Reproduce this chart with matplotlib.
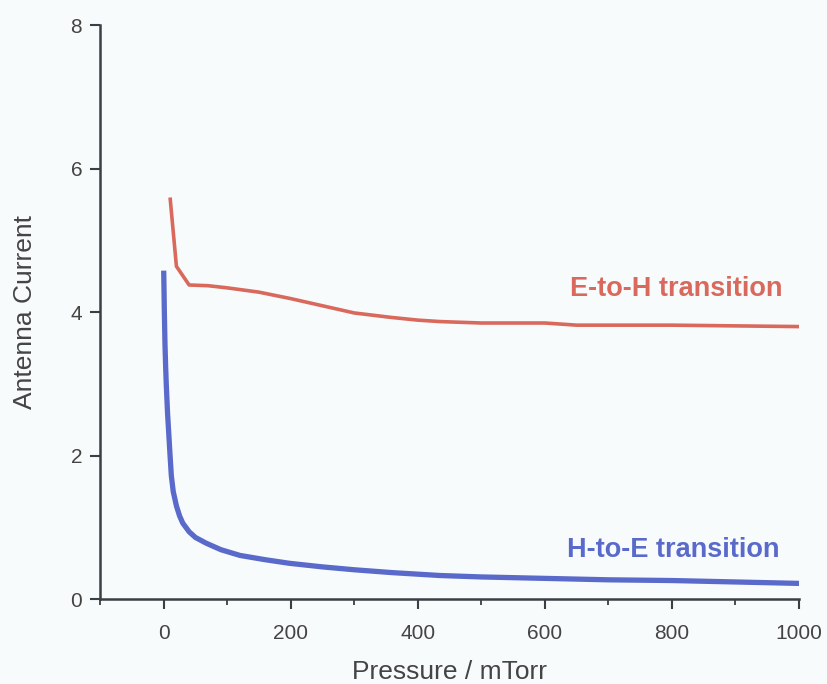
import matplotlib
matplotlib.use('Agg')
from matplotlib import pyplot as plt
from matplotlib.ticker import MultipleLocator

plt.rcParams['font.family'] = ['Liberation Sans', 'DejaVu Sans']

# E-to-H transition (red curve)
eh_pressure = [10, 20, 40, 70, 100, 150, 200, 250, 300, 356, 400, 435, 500, 600, 650, 800, 1000]
eh_current = [5.6, 4.64, 4.38, 4.37, 4.34, 4.28, 4.19, 4.09, 3.99, 3.93, 3.89, 3.87, 3.85, 3.85, 3.82, 3.82, 3.80]

# H-to-E transition (blue curve)
he_pressure = [0, 1, 2, 3, 4, 6, 8, 10, 12, 15, 20, 25, 30, 40, 50, 67, 90, 120, 160,
               198, 250, 300, 360, 435, 500, 600, 700, 800, 900, 1000]
he_current = [4.58, 4.0, 3.55, 3.25, 3.0, 2.6, 2.3, 2.0, 1.72, 1.5, 1.3, 1.16, 1.06, 0.94,
              0.86, 0.78, 0.69, 0.61, 0.55, 0.50, 0.45, 0.41, 0.37, 0.33, 0.31, 0.29,
              0.27, 0.26, 0.24, 0.22]

red = '#d9695c'
blue = '#5a6acb'
axis_col = '#3a3f45'
bg = '#f8fbfc'

fig = plt.figure(figsize=(8.28, 6.84), dpi=100, facecolor=bg)
ax = fig.add_axes([0.121, 0.124, 0.844, 0.839], facecolor=bg)

ax.plot(eh_pressure, eh_current, color=red, lw=2.6, solid_capstyle='butt')
ax.plot(he_pressure, he_current, color=blue, lw=3.8, solid_capstyle='butt')

ax.text(806, 4.33, 'E-to-H transition', color=red, fontsize=19.5, fontweight='bold',
        ha='center', va='center')
ax.text(802, 0.69, 'H-to-E transition', color=blue, fontsize=19.5, fontweight='bold',
        ha='center', va='center')

ax.set_xlim(-100, 1000)
ax.set_ylim(0, 8)
ax.set_xticks([0, 200, 400, 600, 800, 1000])
ax.xaxis.set_minor_locator(MultipleLocator(100))
ax.set_yticks([0, 2, 4, 6, 8])

for s in ['top', 'right']:
    ax.spines[s].set_visible(False)
for s in ['left', 'bottom']:
    ax.spines[s].set_color(axis_col)
    ax.spines[s].set_linewidth(1.8)

ax.tick_params(axis='both', which='major', length=7, width=1.5, color=axis_col,
               labelsize=15, labelcolor='#444444', pad=6)
ax.tick_params(axis='x', which='major', pad=11)
ax.tick_params(axis='x', which='minor', length=4, width=1.3, color=axis_col)

ax.set_xlabel('Pressure / mTorr', fontsize=19, color='#444444', labelpad=12)
ax.set_ylabel('Antenna Current', fontsize=19, color='#444444', labelpad=24)

fig.savefig('out.png', dpi=100, facecolor=bg)
